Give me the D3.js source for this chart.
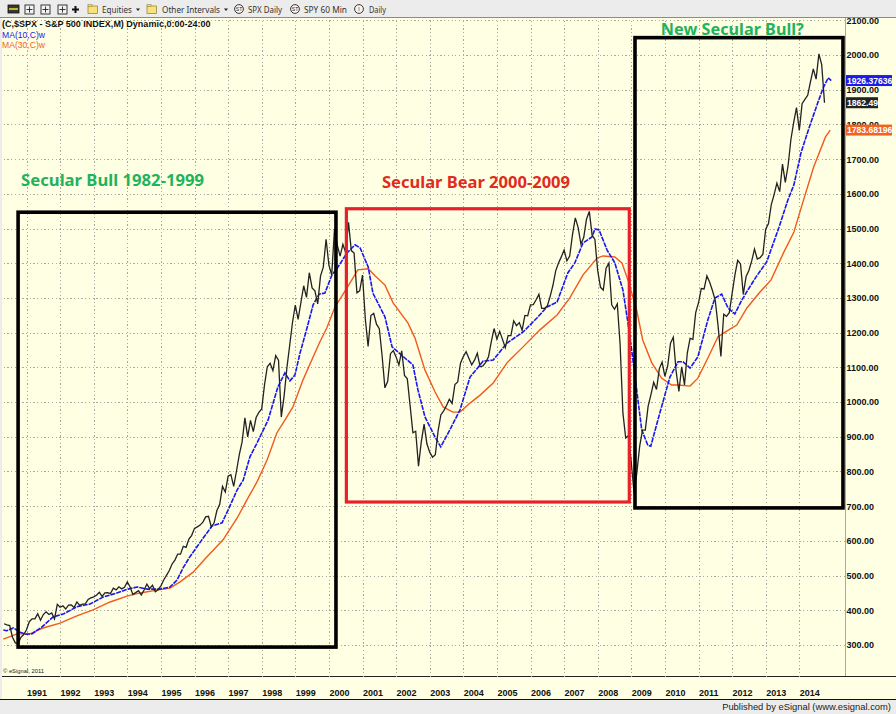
<!DOCTYPE html>
<html><head><meta charset="utf-8">
<script src="https://cdn.jsdelivr.net/npm/d3@7"></script>
<style>
html,body{margin:0;padding:0;background:#fff;overflow:hidden}
svg{display:block}
text{font-family:"Liberation Sans",Arial,sans-serif}
.axis text{font-size:9px;font-weight:700;fill:#111}
.grid line{stroke:#a9a9a0;stroke-width:1;stroke-dasharray:1.3,2.4;shape-rendering:crispEdges}
.domain{display:none}
</style></head><body><svg id="c" width="896" height="714"></svg>
<script>
const priceStartYear = 1990 + 4/12;
const closes = [361.23,358.02,356.15,322.56,306.05,304.00,322.22,330.22,
343.93,367.07,375.22,375.34,389.83,371.16,387.81,395.43,387.86,392.45,375.22,417.09,
408.79,412.70,403.69,414.95,415.35,408.14,424.21,414.03,417.80,418.68,431.35,435.71,
438.78,443.38,451.67,440.19,450.19,450.53,448.13,463.56,458.93,467.83,461.79,466.45,
481.61,467.14,445.77,450.91,456.50,444.27,458.26,475.49,462.69,472.35,453.69,459.27,
470.42,487.39,500.71,514.71,533.40,544.75,562.06,561.88,584.41,581.50,605.37,615.93,
636.02,640.43,645.50,654.17,669.12,670.63,639.95,651.99,687.33,705.27,757.02,740.74,
786.16,790.82,757.12,801.34,848.28,885.14,954.29,899.47,947.28,914.62,955.40,970.43,
980.28,1049.34,1101.75,1111.75,1090.82,1133.84,1120.67,957.28,1017.01,1098.67,1163.63,1229.23,
1279.64,1238.33,1286.37,1335.18,1301.84,1372.71,1328.72,1320.41,1282.71,1362.93,1388.91,1469.25,
1394.46,1366.42,1498.58,1452.43,1420.60,1454.60,1430.83,1517.68,1436.51,1429.40,1314.95,1320.28,
1366.01,1239.94,1160.33,1249.46,1255.82,1224.38,1211.23,1133.58,1040.94,1059.78,1139.45,1148.08,
1130.20,1106.73,1147.39,1076.92,1067.14,989.82,911.62,916.07,815.28,885.76,936.31,879.82,
855.70,841.15,848.18,916.92,963.59,974.50,990.31,1008.01,995.97,1050.71,1058.20,1111.92,
1131.13,1144.94,1126.21,1107.30,1120.68,1140.84,1101.72,1104.24,1114.58,1130.20,1173.82,1211.92,
1181.27,1203.60,1180.59,1156.85,1191.50,1191.33,1234.18,1220.33,1228.81,1207.01,1249.48,1248.29,
1280.08,1280.66,1294.83,1310.61,1270.09,1270.20,1276.66,1303.82,1335.85,1377.94,1400.63,1418.30,
1438.24,1406.82,1420.86,1482.37,1530.62,1503.35,1455.27,1473.99,1526.75,1549.38,1481.14,1468.36,
1378.55,1330.63,1322.70,1385.59,1400.38,1280.00,1267.38,1282.83,1166.36,968.75,896.24,903.25,
825.88,735.09,797.87,872.81,919.14,919.32,987.48,1020.62,1057.08,1036.19,1095.63,1115.10,
1073.87,1104.49,1169.43,1186.69,1089.41,1030.71,1101.60,1049.33,1141.20,1183.26,1180.55,1257.64,
1286.12,1327.22,1325.83,1363.61,1345.20,1320.64,1292.28,1218.89,1131.42,1253.30,1246.96,1257.60,
1312.41,1365.68,1408.47,1397.91,1310.33,1362.16,1379.32,1406.58,1440.67,1412.16,1416.18,1426.19,
1498.11,1514.68,1569.19,1597.57,1630.74,1606.28,1685.73,1632.97,1681.55,1756.54,1805.81,1848.36,
1782.59,1859.45,1872.34,1883.95,1923.57,1960.23,1930.67,2003.37,1972.29,1862.49];

const ma10Years = [1990.31,1990.41,1990.61,1990.81,1990.96,1991.16,1991.46,1991.79,1992.09,1992.5,1992.89,1993.28,1993.69,1994.02,1994.29,1994.59,1994.97,1995.27,1995.48,1995.66,1995.84,1996.22,1996.52,1996.82,1997.0,1997.27,1997.45,1997.65,1997.86,1998.19,1998.48,1998.69,1998.84,1998.99,1999.14,1999.35,1999.53,1999.71,1999.88,2000.09,2000.27,2000.54,2000.78,2000.93,2001.17,2001.31,2001.67,2001.88,2002.26,2002.5,2002.65,2002.86,2003.16,2003.33,2003.6,2003.9,2004.2,2004.5,2004.59,2004.89,2005.3,2005.78,2006.19,2006.49,2006.79,2007.11,2007.32,2007.56,2007.83,2007.92,2008.04,2008.28,2008.51,2008.75,2008.9,2009.05,2009.16,2009.31,2009.49,2009.58,2009.85,2010.15,2010.39,2010.54,2010.75,2010.98,2011.28,2011.49,2011.69,2011.88,2012.08,2012.29,2012.47,2012.71,2013.03,2013.39,2013.66,2013.84,2014.05,2014.29,2014.56,2014.71,2014.86,2014.95];
const ma10Values = [343,341,349,337,331,332,352,381,389,410,418,438,450,461,467,461,461,467,487,522,551,603,643,652,689,747,775,842,882,948,1043,1084,1061,1078,1141,1214,1280,1311,1314,1366,1389,1430,1453,1444,1389,1314,1245,1159,1127,1107,1035,957,899,871,920,977,1072,1107,1118,1121,1170,1202,1242,1274,1288,1372,1401,1458,1476,1499,1496,1438,1401,1323,1228,1121,1035,920,876,873,969,1072,1116,1116,1098,1130,1237,1300,1311,1271,1254,1294,1323,1360,1404,1502,1582,1626,1718,1790,1865,1905,1934,1926.38];

const ma30Years = [1990.31,1990.72,1991.1,1991.49,1992.0,1992.5,1992.98,1993.49,1993.99,1994.38,1994.88,1995.27,1995.57,1995.96,1996.31,1996.85,1997.27,1997.56,1997.86,1998.16,1998.45,1998.69,1998.93,1999.23,1999.53,1999.73,1999.94,2000.18,2000.54,2000.86,2001.17,2001.38,2001.67,2001.91,2002.35,2002.56,2002.86,2003.16,2003.4,2003.69,2003.9,2004.2,2004.5,2004.89,2005.3,2005.78,2006.28,2006.79,2007.17,2007.56,2007.98,2008.16,2008.51,2008.72,2008.9,2009.16,2009.34,2009.61,2009.9,2010.2,2010.39,2010.75,2010.98,2011.28,2011.58,2011.85,2012.14,2012.44,2012.83,2013.16,2013.54,2013.84,2014.1,2014.43,2014.78,2014.92];
const ma30Values = [317,332,332,349,363,384,401,424,441,450,458,464,482,510,548,603,666,718,770,833,911,948,986,1064,1130,1173,1214,1274,1329,1381,1384,1363,1337,1286,1228,1185,1092,1029,986,971,971,997,1020,1055,1113,1159,1208,1251,1300,1366,1415,1421,1418,1401,1352,1265,1179,1113,1069,1049,1049,1046,1069,1127,1188,1205,1222,1271,1317,1352,1432,1490,1574,1678,1764,1783.68];

const yearTicks = d3.range(1991,2015);
const priceTicks = d3.range(300,2101,100);
const boxYearsLeft = [1990.75,2000.52,2009.11];
const boxYearsRight = [2000.21,2008.94,2015.30];
const boxPriceTop = [1547,1557,2050];
const boxPriceBottom = [294,712,695];
const boxColors = ["#000","#e8202a","#000"];
const boxTitles = ["Secular Bull 1982-1999","Secular Bear 2000-2009","New Secular Bull?"];
const titleColors = ["#1fb35c","#e02b20","#1fb35c"];
const titleYears = [1990.84,2001.58,2009.88];
const titlePrices = [1623,1617,2058];
const titleWidths = [183,188,143];
const tagLabels = ["1926.37636","1862.49","1783.68196"];
const tagValues = [1926.38,1862.49,1783.68];
const tagColors = ["#1c1ce6","#222","#f26322"];
const toolbarLabels = ["Equities","Other Intervals","SPX Daily","SPY 60 Min","Daily"];
const headerLines = ["(C,$SPX - S&P 500 INDEX,M) Dynamic,0:00-24:00","MA(10,C)w","MA(30,C)w"];
const headerColors = ["#111","#1c1ce6","#f26322"];

const W=896,H=714, plotL=2, plotT=18, plotR=845, plotB=677, bottomB=699;
const svg=d3.select("#c");
const x=d3.scaleLinear().domain([1991,2014]).range([26.5,799.3]);
const y=d3.scaleLinear().domain([300,2000]).range([645,55]);

// panels
svg.append("rect").attr("width",W).attr("height",H).attr("fill","#ececec");
svg.append("rect").attr("x",plotL).attr("y",plotT).attr("width",W-plotL).attr("height",bottomB-plotT).attr("fill","#ffffe3");
svg.append("line").attr("x1",0).attr("x2",W).attr("y1",17.5).attr("y2",17.5).attr("stroke","#8a8a8a");
svg.append("line").attr("x1",plotR+.5).attr("x2",plotR+.5).attr("y1",plotT).attr("y2",plotB).attr("stroke","#a8a8a8");
svg.append("line").attr("x1",plotL).attr("x2",W).attr("y1",plotB-.5).attr("y2",plotB-.5).attr("stroke","#222");
svg.append("line").attr("x1",0).attr("x2",W).attr("y1",bottomB+.5).attr("y2",bottomB+.5).attr("stroke","#111");

// grid via axes
svg.append("g").attr("class","grid").attr("transform",`translate(0,${plotB})`)
  .call(d3.axisTop(x).tickValues(yearTicks).tickSize(plotB-plotT).tickFormat(""));
svg.append("g").attr("class","grid").attr("transform",`translate(${plotR},0)`)
  .call(d3.axisLeft(y).tickValues(priceTicks).tickSize(plotR-plotL).tickFormat(""));

// axes labels
const xa=svg.append("g").attr("class","axis").attr("transform",`translate(0,${plotB})`)
  .call(d3.axisBottom(x).tickValues(yearTicks).tickFormat(d3.format("d")).tickSize(0));
xa.selectAll("text").attr("text-anchor","start").attr("dy",0).attr("y",19);
const ya=svg.append("g").attr("class","axis").attr("transform",`translate(${plotR},0)`)
  .call(d3.axisRight(y).tickValues(priceTicks).tickFormat(d3.format(".2f")).tickSize(0));
ya.selectAll("text").attr("x",1.5);

// series
const priceData=closes.map((v,i)=>[priceStartYear+i/12,v]);
const ma10=ma10Years.map((t,i)=>[t,ma10Values[i]]);
const ma30=ma30Years.map((t,i)=>[t,ma30Values[i]]);
const line=d3.line().x(d=>x(d[0])).y(d=>y(d[1]));
svg.append("path").attr("d",line(ma30)).attr("fill","none").attr("stroke","#f2591f").attr("stroke-width",1.4);
svg.append("path").attr("d",line(ma10)).attr("fill","none").attr("stroke","#1717f0").attr("stroke-width",1.6).attr("stroke-dasharray","5,1");
svg.append("path").attr("d",line(priceData)).attr("fill","none").attr("stroke","#222").attr("stroke-width",1.3).attr("stroke-linejoin","miter");

// regime boxes and titles
boxColors.forEach((c,i)=>{
  svg.append("rect").attr("x",x(boxYearsLeft[i])).attr("y",y(boxPriceTop[i]))
    .attr("width",x(boxYearsRight[i])-x(boxYearsLeft[i])).attr("height",y(boxPriceBottom[i])-y(boxPriceTop[i]))
    .attr("fill","none").attr("stroke",c).attr("stroke-width",i==1?3.2:3.6);
  svg.append("text").attr("x",x(titleYears[i])).attr("y",y(titlePrices[i])).text(boxTitles[i])
    .attr("fill",titleColors[i]).attr("font-size",16.5).attr("font-weight",700)
    .attr("textLength",titleWidths[i]).attr("lengthAdjust","spacingAndGlyphs")
    .style("font-family",'"Noto Sans",sans-serif');
});

// value tags
const tagWidths=[46,32,46];
tagLabels.forEach((t,i)=>{
  const g=svg.append("g"), yy=y(tagValues[i]);
  g.append("rect").attr("x",846).attr("y",yy-5.5).attr("width",tagWidths[i]).attr("height",11).attr("fill",tagColors[i]);
  g.append("text").attr("x",847).attr("y",yy+3.2).text(t).attr("fill","#fff").attr("font-size",8.6).attr("font-weight",700);
});

// header text
const headerY=[27,37.5,48];
headerLines.forEach((t,i)=>{
  svg.append("text").attr("x",2).attr("y",headerY[i]).text(t).attr("fill",headerColors[i])
    .attr("font-size",i?8.6:9).attr("font-weight",i?400:700);
});
svg.append("text").attr("x",3).attr("y",673).text("© eSignal, 2011").attr("font-size",5.8).attr("fill","#222");
svg.append("text").attr("x",891).attr("y",710).attr("text-anchor","end").text("Published by eSignal (www.esignal.com)")
  .attr("font-size",9.4).attr("fill","#222");

// toolbar
const tb=svg.append("g");
const labelX=[102,162,248,304,369];
const labelW=[30,58,34,43,17];
toolbarLabels.forEach((t,i)=>{
  tb.append("text").attr("x",labelX[i]).attr("y",12.5).text(t).attr("font-size",9.6).attr("fill","#333")
    .attr("textLength",labelW[i]).attr("lengthAdjust","spacingAndGlyphs").style("font-family",'"Noto Sans",sans-serif');
});
[88,147].forEach(px=>{
  tb.append("rect").attr("x",px).attr("y",6).attr("width",9.5).attr("height",7.5).attr("fill","#f7e27c").attr("stroke","#8a7a30").attr("stroke-width",.7);
  tb.append("rect").attr("x",px).attr("y",4.6).attr("width",4).attr("height",1.6).attr("fill","#f7e27c").attr("stroke","#8a7a30").attr("stroke-width",.5);
});
[[136,8.5],[224,8.5]].forEach(p=>tb.append("path").attr("d",`M${p[0]} ${p[1]}h4l-2 2.4z`).attr("fill","#222"));
[[239,"ST"],[295,"ST"],[359,"I"]].forEach(p=>{
  tb.append("circle").attr("cx",p[0]).attr("cy",9).attr("r",4.4).attr("fill","#f4f4f4").attr("stroke","#222").attr("stroke-width",.9);
  tb.append("text").attr("x",p[0]).attr("y",11).attr("text-anchor","middle").text(p[1]).attr("font-size",5).attr("fill","#222");
});
tb.append("rect").attr("x",8).attr("y",5).attr("width",11).attr("height",8).attr("fill","#3a3a2a").attr("stroke","#111").attr("stroke-width",.8);
tb.append("path").attr("d","M9 9h9").attr("stroke","#e8d040").attr("stroke-width",1.6);
[[25,"#f4f4f4"],[41,"#f4f4f4"],[58,"#f4f4f4"]].forEach(p=>{
  tb.append("rect").attr("x",p[0]).attr("y",5).attr("width",9).attr("height",9).attr("fill",p[1]).attr("stroke","#222").attr("stroke-width",.9);
  tb.append("path").attr("d",`M${p[0]+4.5} 6.5v6M${p[0]+1.5} 9.5h6`).attr("stroke","#222").attr("stroke-width",.9);
});
tb.append("path").attr("d","M72 9.5h7M75.5 6v7").attr("stroke","#111").attr("stroke-width",2);
</script></body></html>
